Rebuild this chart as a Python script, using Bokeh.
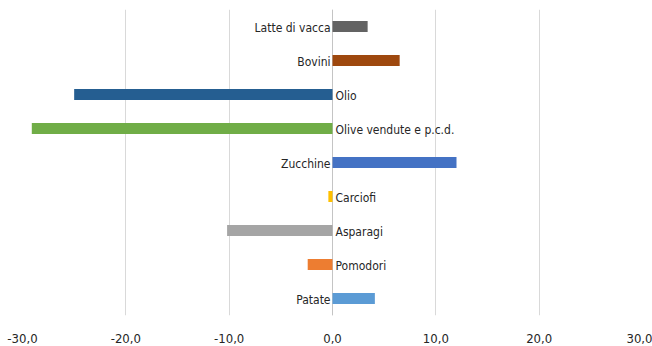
from bokeh.plotting import figure
from bokeh.models import ColumnDataSource, Range1d, CustomJSTickFormatter, FixedTicker, Span
from bokeh.core.properties import value
from bokeh.embed import file_html
from bokeh.resources import INLINE

# Variazione percentuale per prodotto (dall'alto verso il basso)
categories = ["Latte di vacca", "Bovini", "Olio", "Olive vendute e p.c.d.",
              "Zucchine", "Carciofi", "Asparagi", "Pomodori", "Patate"]
values = [3.4, 6.5, -25.0, -29.1, 12.0, -0.4, -10.2, -2.4, 4.1]
colors = ["#636363", "#9e480e", "#255e91", "#70ad47",
          "#4472c4", "#ffc000", "#a5a5a5", "#ed7d31", "#5b9bd5"]
x_ticks = [-30, -20, -10, 0, 10, 20, 30]

FONT = "DejaVu Sans Condensed"
TEXT_COLOR = "#262626"

n = len(categories)
ypos = [n - 1 - i for i in range(n)]

pos_idx = [i for i, v in enumerate(values) if v >= 0]
neg_idx = [i for i, v in enumerate(values) if v < 0]

bars = ColumnDataSource(dict(y=ypos, v=values, c=colors))
lab_pos = ColumnDataSource(dict(y=[ypos[i] for i in pos_idx],
                                t=[categories[i] for i in pos_idx]))
lab_neg = ColumnDataSource(dict(y=[ypos[i] for i in neg_idx],
                                t=[categories[i] for i in neg_idx]))

p = figure(width=652, height=346, output_backend="svg", toolbar_location=None,
           x_range=Range1d(x_ticks[0], x_ticks[-1]), y_range=Range1d(-0.5, n - 0.5),
           min_border_left=22, min_border_right=10, min_border_top=9,
           min_border_bottom=31)
p.outline_line_color = None
p.background_fill_color = "white"
p.border_fill_color = "white"

p.yaxis.visible = False
p.ygrid.grid_line_color = None
p.xgrid.grid_line_color = "#d9d9d9"
p.xgrid.grid_line_width = 1

# asse verticale dello zero, leggermente più scuro della griglia
p.add_layout(Span(location=0, dimension="height", line_color="#c4c4c4",
                  line_width=1, level="underlay"))

p.hbar(y="y", left=0, right="v", height=0.32, fill_color="c",
       line_color=None, source=bars)

# Etichette di categoria accanto all'asse dello zero
p.text(x=0, y="y", text="t", source=lab_pos, x_offset=-2, y_offset=1,
       text_align="right", text_baseline="middle",
       text_font=value(FONT), text_font_size="12px", text_color=TEXT_COLOR)
p.text(x=0, y="y", text="t", source=lab_neg, x_offset=3, y_offset=1,
       text_align="left", text_baseline="middle",
       text_font=value(FONT), text_font_size="12px", text_color=TEXT_COLOR)

xa = p.xaxis[0]
xa.ticker = FixedTicker(ticks=x_ticks)
xa.formatter = CustomJSTickFormatter(code="return tick.toFixed(1).replace('.', ',');")
xa.axis_line_color = None
xa.major_tick_line_color = None
xa.minor_tick_line_color = None
xa.major_label_standoff = 12
xa.major_label_text_font = FONT
xa.major_label_text_font_size = "13px"
xa.major_label_text_color = TEXT_COLOR

open("out.html", "w").write(file_html(p, INLINE))
